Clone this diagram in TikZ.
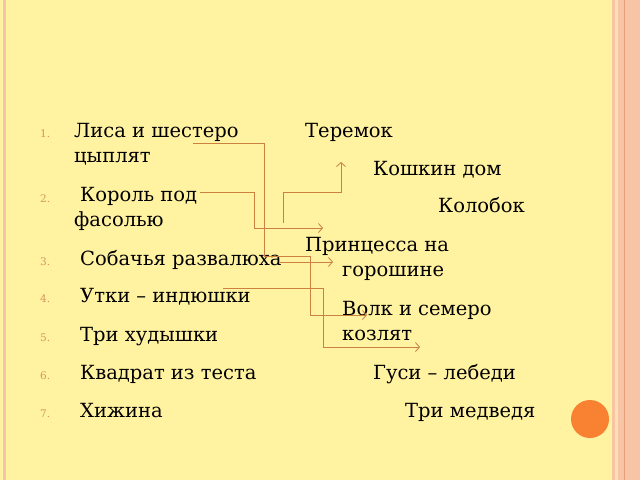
\documentclass[tikz,border=0pt]{standalone}
\usepackage{fontspec}
\setmainfont{DejaVu Serif}
\usetikzlibrary{arrows.meta}
\usetikzlibrary{positioning}
\definecolor{paper}{RGB}{255,242,161}
\definecolor{stripe}{RGB}{247,196,166}
\definecolor{stripelight}{RGB}{255,224,178}
\definecolor{stripedark}{RGB}{232,158,120}
\definecolor{numcol}{RGB}{214,150,95}
\definecolor{linkcol}{RGB}{204,130,62}
\definecolor{dot}{RGB}{249,130,50}

\begin{document}
\begin{tikzpicture}
                [x=1pt, y=-1pt,
                 every node/.style={inner sep=0pt, anchor=base west, align=left,
                   font=\fontsize{19.5}{25}\selectfont},
                 num/.style={font=\fontsize{10.5}{12}\selectfont, text=numcol},
                 link/.style={draw=linkcol, line width=0.8pt,
                   -{Straight Barb[length=4pt,width=9pt]}}]
                \useasboundingbox (0,0) rectangle (640,480);
                \fill[paper] (0,0) rectangle (640,480);
                % page edges
                \fill[stripe] (3,0) rectangle (6,480);
                \fill[stripe] (612,0) rectangle (615,480);
                \fill[stripelight] (615,0) rectangle (618,480);
                \fill[stripe] (618,0) rectangle (640,480);
                \fill[stripedark] (623.5,0) rectangle (624.5,480);
                \fill[dot] (590,419) circle (19);
                % left column
                \node (n1) [num] at (40,137) {1.};
                \node (n2) [num] at (40,202) {2.};
                \node (n3) [num] at (40,265) {3.};
                \node (n4) [num] at (40,302) {4.};
                \node (n5) [num] at (40,341) {5.};
                \node (n6) [num] at (40,379) {6.};
                \node (n7) [num] at (40,417) {7.};
                \node (lisa) at (74,162) {Лиса и шестеро\\цыплят};
                \node (korol) at (74,226) {\hspace*{6pt}Король под\\фасолью};
                \node (sobach) at (80,265) {Собачья развалюха};
                \node (utki) at (80,302) {Утки – индюшки};
                \node (tri) at (80,341) {Три худышки};
                \node (kvadr) at (80,379) {Квадрат из теста};
                \node (hizh) at (80,417) {Хижина};
                % right column
                \node (terem) at (305,137) {Теремок};
                \node (koshk) at (373,175) {Кошкин дом};
                \node (kolob) at (438,212) {Колобок};
                \node (princ) at (305,276) {Принцесса на\\\hspace*{37pt}горошине};
                \node (volk) at (342,340) {Волк и семеро\\козлят};
                \node (gusi) at (373,379) {Гуси – лебеди};
                \node (medv) at (405,417) {Три медведя};
                % connectors
                \coordinate (a1) at (193,143);
                \coordinate (a2) at (200,192);
                \coordinate (a3) at (280,262);
                \coordinate (a4) at (223,288);
                \coordinate (a5) at (283,223);
                \coordinate (b1) at (367,315);
                \coordinate (b2) at (323,228);
                \coordinate (b3) at (333,262);
                \coordinate (b4) at (420,347);
                \coordinate (b5) at (341,162);
                \draw[link] (a1) -- ++(71,0) -- ++(0,113) -- ++(46,0) -- ++(0,59) -- (b1);
                \draw[link] (a2) -- ++(54,0) -- ++(0,36) -- (b2);
                \draw[link] (a3) -- (b3);
                \draw[link] (a4) -- ++(100,0) -- ++(0,59) -- (b4);
                \draw[link] (a5) -- ++(0,-31) -- ++(58,0) -- (b5);
            \end{tikzpicture}
\end{document}
